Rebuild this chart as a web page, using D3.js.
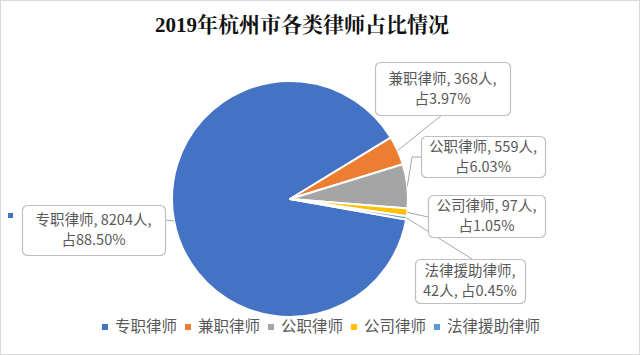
<!DOCTYPE html>
<html><head><meta charset="utf-8">
<script src="https://cdn.jsdelivr.net/npm/d3@7"></script>
<style>body{margin:0;background:#fff;}svg{display:block;}</style>
</head><body>
<svg id="c" width="640" height="355"></svg>
<script>
const title = "2019年杭州市各类律师占比情况";
const categories = ["专职律师", "兼职律师", "公职律师", "公司律师", "法律援助律师"];
const values = [8204, 368, 559, 97, 42];
const colors = ["#4472C4", "#ED7D31", "#A5A5A5", "#FFC000", "#5B9BD5"];

// layout (label boxes: x, y, w, h) and leader bends
const boxes = [
  {x:22, y:205, w:143, h:50, end:[165,220]},
  {x:375, y:62, w:135, h:53, end:[442,115]},
  {x:421, y:136, w:124, h:41, bend:[412,157], end:[421,157]},
  {x:428, y:195, w:117, h:42, end:[428,217]},
  {x:415, y:259, w:110, h:44, end:[472,259]}
];

const svg = d3.select("#c");
const W = 640, H = 355;
const cx = 290, cy = 199, R = 118;
const font = "'Noto Sans CJK SC', 'Microsoft YaHei', sans-serif";

// frame
svg.append("rect").attr("x",0.5).attr("y",0.5).attr("width",W-1).attr("height",H-1)
  .attr("fill","#fff").attr("stroke","#d9d9d9");

svg.append("text").attr("x",302).attr("y",32).attr("text-anchor","middle")
  .attr("font-family","'Liberation Serif', 'Noto Serif CJK SC', 'Noto Sans CJK SC', serif")
  .attr("font-weight","bold").attr("font-size",21).attr("fill","#111").text(title);

const total = d3.sum(values);
const data = categories.map((c,i)=>({name:c, value:values[i], color:colors[i], i}));
const pie = d3.pie().value(d=>d.value).sort(null)
  .startAngle(100*Math.PI/180).endAngle(100*Math.PI/180 + 2*Math.PI);
const arcs = pie(data);
const arc = d3.arc().innerRadius(0).outerRadius(R);

const g = svg.append("g").attr("transform",`translate(${cx},${cy})`);
g.selectAll("path").data(arcs).join("path")
  .attr("d",arc).attr("fill",d=>d.data.color)
  .attr("stroke","#fff").attr("stroke-width",2).attr("stroke-linejoin","round");

// leader lines
arcs.forEach((a,i)=>{
  const m = (a.startAngle + a.endAngle)/2;
  const p0 = [cx + R*Math.sin(m), cy - R*Math.cos(m)];
  const b = boxes[i];
  const pts = [p0];
  if (b.bend) pts.push(b.bend);
  pts.push(b.end);
  svg.append("path").attr("d", d3.line()(pts)).attr("fill","none")
    .attr("stroke","#a6a6a6").attr("stroke-width",1);
});

// label boxes
arcs.forEach((a,i)=>{
  const d = a.data, b = boxes[i];
  const pct = (d.value/total*100).toFixed(2) + "%";
  let l1, l2;
  if (d.name.length > 4) { l1 = d.name + ","; l2 = d.value + "人, 占" + pct; }
  else { l1 = d.name + ", " + d.value + "人,"; l2 = "占" + pct; }
  svg.append("rect").attr("x",b.x+0.5).attr("y",b.y+0.5).attr("width",b.w).attr("height",b.h)
    .attr("rx",5).attr("fill","#fff").attr("stroke","#bfbfbf").attr("stroke-width",1.2);
  const t = svg.append("text").attr("font-family",font).attr("font-size",14.5)
    .attr("fill","#595959").attr("text-anchor","middle");
  const mx = b.x + b.w/2, my = b.y + b.h/2;
  t.append("tspan").attr("x",mx).attr("y",my-10).attr("dy","0.35em").text(l1);
  t.append("tspan").attr("x",mx).attr("y",my+10).attr("dy","0.35em").text(l2);
});
// legend key in first label
svg.append("rect").attr("x",8).attr("y",213).attr("width",5).attr("height",5).attr("fill",colors[0]);

// legend
const lg = svg.append("g");
let x = 0;
data.forEach((d,i)=>{
  const it = lg.append("g");
  it.append("rect").attr("x",0).attr("y",-3).attr("width",6).attr("height",6).attr("fill",d.color);
  const tx = it.append("text").attr("x",13).attr("y",0).attr("dy","0.35em")
    .attr("font-family",font).attr("font-size",15.5).attr("fill","#595959").text(d.name);
  const w = 13 + tx.node().getComputedTextLength();
  it.attr("transform",`translate(${x},327)`);
  x += w + 8;
});
const lw = x - 8;
lg.attr("transform",`translate(${321 - lw/2},0)`);
</script>
</body></html>
